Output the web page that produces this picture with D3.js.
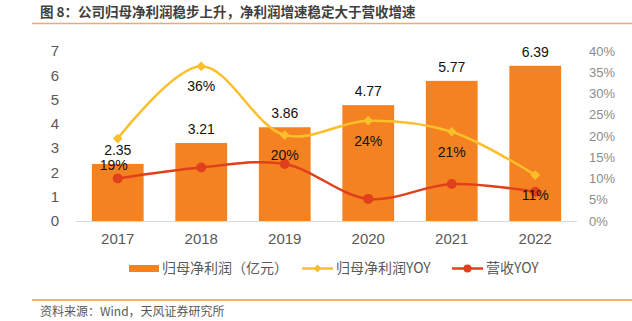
<!DOCTYPE html>
<html>
<head>
<meta charset="utf-8">
<script src="https://cdn.jsdelivr.net/npm/d3@7"></script>
<style>
  body { margin: 0; background: #fff; }
  text { font-family: "Liberation Sans", Arial, "Noto Sans CJK SC", sans-serif; }
  .cn { font-family: "Noto Sans CJK SC", "Liberation Sans", sans-serif; }
</style>
</head>
<body>
<script>
var years = ["2017", "2018", "2019", "2020", "2021", "2022"];
var profit = [2.35, 3.21, 3.86, 4.77, 5.77, 6.39];
var profitYoy = [0.194, 0.364, 0.202, 0.236, 0.21, 0.108];
var yoyLabels = ["19%", "36%", "20%", "24%", "21%", "11%"];
var revenueYoy = [0.100, 0.126, 0.134, 0.052, 0.087, 0.069];
var leftTicks = [0, 1, 2, 3, 4, 5, 6, 7];
var rightTicks = [0, 0.05, 0.1, 0.15, 0.2, 0.25, 0.3, 0.35, 0.4];

var W = 632, H = 321;
var svg = d3.select("body").append("svg")
    .attr("width", W)
    .attr("height", H);

// title + rules
svg.append("text")
    .attr("class", "cn")
    .attr("x", 40)
    .attr("y", 17)
    .style("font-size", "13.5px")
    .style("font-weight", "bold")
    .attr("fill", "#3f3f3f")
    .text("图 8：公司归母净利润稳步上升，净利润增速稳定大于营收增速");
svg.append("line")
    .attr("x1", 32).attr("x2", W).attr("y1", 23.5).attr("y2", 23.5)
    .attr("stroke", "#f5a868").attr("stroke-width", 1.5);
svg.append("line")
    .attr("x1", 32).attr("x2", W).attr("y1", 300).attr("y2", 300)
    .attr("stroke", "#f5963a").attr("stroke-width", 1.5);
svg.append("text")
    .attr("class", "cn")
    .attr("x", 40)
    .attr("y", 316)
    .style("font-size", "12px")
    .attr("fill", "#595959")
    .text("资料来源：Wind，天风证券研究所");

var x = d3.scaleBand()
    .domain(years)
    .range([76, 577])
    .paddingInner(0.38)
    .paddingOuter(0.19);

var y = d3.scaleLinear().domain([0, 7]).range([221, 51]);
var y2 = d3.scaleLinear().domain([0, 0.4]).range([221, 51]);

// left axis
var left = svg.append("g")
    .attr("transform", "translate(59,0)")
    .call(d3.axisLeft(y).tickValues(leftTicks).tickSize(0).tickPadding(0)
        .tickFormat(d3.format("d")));
left.select(".domain").remove();
left.selectAll("text")
    .style("font-size", "15px")
    .attr("fill", "#595959");

// right axis
var right = svg.append("g")
    .attr("transform", "translate(589,0)")
    .call(d3.axisRight(y2).tickValues(rightTicks).tickSize(0).tickPadding(0)
        .tickFormat(d3.format(".0%")));
right.select(".domain").remove();
right.selectAll("text")
    .style("font-size", "13px")
    .attr("fill", "#8c8c8c");

// bars
svg.selectAll(".bar")
    .data(profit)
    .enter().append("rect")
    .attr("class", "bar")
    .attr("x", function (d, i) { return x(years[i]); })
    .attr("y", function (d) { return y(d); })
    .attr("width", x.bandwidth())
    .attr("height", function (d) { return y(0) - y(d); })
    .attr("fill", "#f58220");

// baseline
svg.append("line")
    .attr("x1", 76).attr("x2", 577).attr("y1", y(0) + 0.5).attr("y2", y(0) + 0.5)
    .attr("stroke", "#d9d9d9");

// x axis labels
var bottom = svg.append("g")
    .attr("transform", "translate(0," + 233 + ")")
    .call(d3.axisBottom(x).tickSize(0).tickPadding(0));
bottom.select(".domain").remove();
bottom.selectAll("text")
    .style("font-size", "15px")
    .attr("fill", "#595959");

// bar value labels
svg.selectAll(".blab")
    .data(profit)
    .enter().append("text")
    .attr("class", "blab")
    .attr("x", function (d, i) { return x(years[i]) + x.bandwidth() / 2; })
    .attr("y", function (d) { return y(d) - 9; })
    .attr("text-anchor", "middle")
    .style("font-size", "14px")
    .attr("fill", "#111")
    .text(function (d) { return d.toFixed(2); });

var cx = function (d, i) { return x(years[i]) + x.bandwidth() / 2; };

var line = d3.line()
    .x(cx)
    .y(function (d) { return y2(d); })
    .curve(d3.curveCatmullRom.alpha(0.5));

// revenue yoy
svg.append("path")
    .datum(revenueYoy)
    .attr("d", line)
    .attr("fill", "none")
    .attr("stroke", "#e0401b")
    .attr("stroke-width", 2.5);
svg.selectAll(".rdot")
    .data(revenueYoy)
    .enter().append("circle")
    .attr("cx", cx)
    .attr("cy", function (d) { return y2(d); })
    .attr("r", 5)
    .attr("fill", "#e0401b");

// profit yoy
svg.append("path")
    .datum(profitYoy)
    .attr("d", line)
    .attr("fill", "none")
    .attr("stroke", "#fbbf2c")
    .attr("stroke-width", 2.5);
svg.selectAll(".ydot")
    .data(profitYoy)
    .enter().append("path")
    .attr("d", d3.symbol().type(d3.symbolDiamond2).size(60))
    .attr("transform", function (d, i) { return "translate(" + cx(d, i) + "," + y2(d) + ")"; })
    .attr("fill", "#fbbf2c");

svg.selectAll(".ylab")
    .data(profitYoy)
    .enter().append("text")
    .attr("x", function (d, i) { return cx(d, i) - (i == 0 ? 4 : 0); })
    .attr("y", function (d, i) { return y2(d) + (i == 0 ? 31 : 25); })
    .attr("text-anchor", "middle")
    .style("font-size", "14px")
    .attr("fill", "#111")
    .text(function (d, i) { return yoyLabels[i]; });

// legend
var lg = svg.append("g").attr("transform", "translate(0,268)");
lg.append("rect")
    .attr("x", 129).attr("y", -3).attr("width", 30).attr("height", 7)
    .attr("fill", "#f58220");
lg.append("text").attr("class", "cn")
    .attr("x", 162).attr("y", 5)
    .style("font-size", "14px").attr("fill", "#595959")
    .text("归母净利润（亿元）");

lg.append("line")
    .attr("x1", 302).attr("x2", 333).attr("y1", 0.5).attr("y2", 0.5)
    .attr("stroke", "#fbbf2c").attr("stroke-width", 2.5);
lg.append("path")
    .attr("d", d3.symbol().type(d3.symbolDiamond2).size(40))
    .attr("transform", "translate(317.5,0.5)")
    .attr("fill", "#fbbf2c");
lg.append("text").attr("class", "cn")
    .attr("x", 336).attr("y", 5)
    .style("font-size", "14px").attr("fill", "#595959")
    .text("归母净利润YOY");

lg.append("line")
    .attr("x1", 452).attr("x2", 483).attr("y1", 0.5).attr("y2", 0.5)
    .attr("stroke", "#e0401b").attr("stroke-width", 2.5);
lg.append("circle")
    .attr("cx", 467.5).attr("cy", 0.5).attr("r", 4)
    .attr("fill", "#e0401b");
lg.append("text").attr("class", "cn")
    .attr("x", 486).attr("y", 5)
    .style("font-size", "14px").attr("fill", "#595959")
    .text("营收YOY");
</script>
</body>
</html>
